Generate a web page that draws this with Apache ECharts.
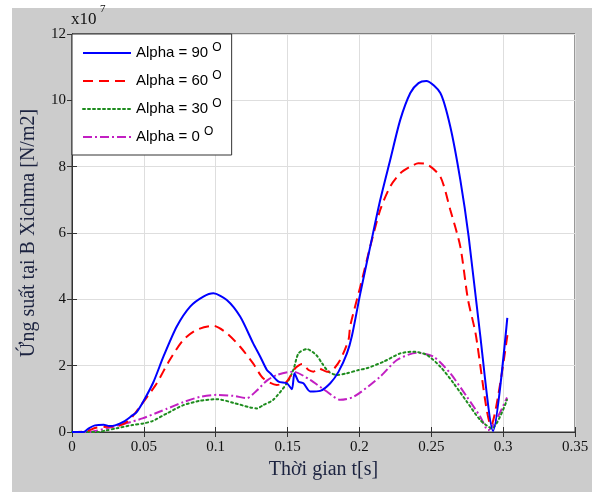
<!DOCTYPE html>
<html>
<head>
<meta charset="utf-8">
<script src="https://cdn.jsdelivr.net/npm/echarts@6/dist/echarts.min.js"></script>
<style>
html,body{margin:0;padding:0;background:#fff;}
#chart{width:596px;height:495px;}
</style>
</head>
<body>
<div id="chart"></div>
<script>
// ---- data (stress in units of 1e7 N/m2, time in s) ----
const seriesNames = ['Alpha = 90', 'Alpha = 60', 'Alpha = 30', 'Alpha = 0'];
const xTickLabels = ['0', '0.05', '0.1', '0.15', '0.2', '0.25', '0.3', '0.35'];
const yTickLabels = ['0', '2', '4', '6', '8', '10', '12'];

const t90 = [0, 0.008, 0.012, 0.016, 0.022, 0.026, 0.03, 0.036, 0.042, 0.045, 0.05, 0.0566, 0.0636, 0.0729, 0.0822, 0.0914, 0.0984, 0.1077, 0.117, 0.126, 0.131, 0.1356, 0.138, 0.1437, 0.1495, 0.153, 0.1548, 0.1576, 0.161, 0.1657, 0.1727, 0.1797, 0.1855, 0.1913, 0.1948, 0.2006, 0.2075, 0.2145, 0.2214, 0.2284, 0.2354, 0.2411, 0.2465, 0.2563, 0.2632, 0.2702, 0.276, 0.2836, 0.293, 0.3029];
const v90 = [0, 0, 0.12, 0.2, 0.22, 0.18, 0.2, 0.31, 0.5, 0.6, 0.95, 1.5, 2.27, 3.18, 3.78, 4.08, 4.18, 3.98, 3.48, 2.68, 2.27, 1.87, 1.77, 1.52, 1.47, 1.29, 1.77, 1.52, 1.47, 1.22, 1.24, 1.47, 1.82, 2.37, 2.9, 4.18, 5.59, 7.0, 8.2, 9.41, 10.22, 10.52, 10.58, 10.22, 9.21, 7.6, 5.89, 3.08, 0.03, 3.44];

const t60 = [0, 0.01, 0.016, 0.024, 0.032, 0.038, 0.042, 0.048, 0.055, 0.059, 0.068, 0.0775, 0.0868, 0.0984, 0.1077, 0.117, 0.126, 0.133, 0.1425, 0.149, 0.1553, 0.16, 0.1646, 0.168, 0.1715, 0.1773, 0.181, 0.1866, 0.1924, 0.1936, 0.2006, 0.2075, 0.2145, 0.2214, 0.2284, 0.2354, 0.241, 0.2465, 0.2563, 0.2632, 0.2702, 0.2755, 0.2807, 0.2916, 0.303];
const v60 = [0, 0.02, 0.12, 0.16, 0.18, 0.3, 0.46, 0.81, 1.22, 1.47, 2.17, 2.78, 3.08, 3.2, 2.98, 2.57, 2.07, 1.62, 1.42, 1.5, 1.92, 2.05, 1.87, 1.82, 1.92, 1.82, 1.85, 2.17, 2.78, 3.2, 4.38, 5.59, 6.7, 7.4, 7.8, 8.0, 8.1, 8.08, 7.7, 6.7, 5.59, 4.0, 3.0, 0.2, 2.93];

const t30 = [0, 0.018, 0.024, 0.031, 0.042, 0.0497, 0.056, 0.066, 0.0775, 0.089, 0.1008, 0.1123, 0.124, 0.1286, 0.133, 0.14, 0.1495, 0.154, 0.1576, 0.1634, 0.17, 0.174, 0.1785, 0.1843, 0.1913, 0.1994, 0.205, 0.2168, 0.2284, 0.2377, 0.247, 0.2563, 0.2655, 0.2748, 0.2841, 0.2922, 0.3027];
const v30 = [0, 0, 0.05, 0.11, 0.21, 0.26, 0.33, 0.56, 0.81, 0.94, 0.99, 0.88, 0.74, 0.71, 0.81, 0.97, 1.47, 1.87, 2.37, 2.5, 2.32, 2.07, 1.82, 1.72, 1.77, 1.87, 1.92, 2.12, 2.37, 2.42, 2.32, 1.97, 1.47, 0.91, 0.36, 0.11, 0.97];

const t0 = [0, 0.012, 0.024, 0.0376, 0.049, 0.0608, 0.066, 0.0775, 0.089, 0.1008, 0.1123, 0.1216, 0.1286, 0.1356, 0.1425, 0.154, 0.1657, 0.1773, 0.1866, 0.196, 0.2145, 0.2261, 0.24, 0.2516, 0.2632, 0.2748, 0.2841, 0.2895, 0.3027];
const v0 = [0, 0, 0.11, 0.26, 0.41, 0.61, 0.7, 0.9, 1.06, 1.12, 1.09, 1.02, 1.25, 1.55, 1.72, 1.82, 1.57, 1.22, 0.97, 1.06, 1.67, 2.17, 2.39, 2.27, 1.77, 1.06, 0.46, 0.05, 1.04];

const pairs = (xs, ys) => xs.map((x, i) => [x, ys[i]]);

const colors = ['#0000ff', '#ff0000', '#1e8c1e', '#c21fc2'];
const dashes = ['solid', [10, 6], [2, 3], [9, 3, 2, 3]];
const datasets = [pairs(t90, v90), pairs(t60, v60), pairs(t30, v30), pairs(t0, v0)];

const serif = 'Liberation Serif';
const sans = 'Liberation Sans';

const chart = echarts.init(document.getElementById('chart'), null, {renderer: 'canvas'});

const axisCommon = {
  axisLine: {show: true, lineStyle: {color: '#333', width: 1}},
  axisTick: {show: true, inside: true, length: 5, lineStyle: {color: '#333'}},
};

chart.setOption({
  animation: false,
  backgroundColor: '#ffffff',
  graphic: {
    z: -100,
    elements: [
      {type: 'rect', z: -100, shape: {x: 12, y: 8, width: 580, height: 484}, style: {fill: '#cccccc'}},
      {type: 'text', x: 71, y: 11, style: {text: 'x10', font: '17px "Liberation Serif"', fill: '#111'}},
      {type: 'text', x: 100, y: 4, style: {text: '7', font: '11px "Liberation Serif"', fill: '#111'}}
    ]
  },
  grid: {left: 72, top: 34, right: 21, bottom: 63, show: true, backgroundColor: '#ffffff', borderColor: '#333', borderWidth: 1},
  legend: {
    data: seriesNames,
    left: 72, top: 34, orient: 'vertical',
    itemWidth: 48, itemHeight: 14, itemGap: 7,
    padding: [8, 10, 8, 10],
    backgroundColor: '#ffffff', borderColor: '#333', borderWidth: 1, borderRadius: 0,
    itemStyle: {opacity: 0},
    textStyle: {
      color: '#000', fontFamily: sans, fontSize: 15, lineHeight: 20,
      rich: {
        t: {fontFamily: sans, fontSize: 15, color: '#000', lineHeight: 20},
        s: {fontFamily: sans, fontSize: 12, color: '#000', padding: [0, 0, 10, 0]}
      }
    },
    formatter: name => '{t|' + name + ' }{s|O}'
  },
  xAxis: [{
    type: 'value', min: 0, max: 0.35, interval: 0.05, position: 'bottom',
    ...axisCommon,
    axisLabel: {color: '#111', fontFamily: serif, fontSize: 15, margin: 8,
      formatter: v => xTickLabels[Math.round(v / 0.05)]},
    splitLine: {show: true, lineStyle: {color: '#dedede', width: 1}},
    name: 'Thời gian t[s]', nameLocation: 'middle', nameGap: 27,
    nameTextStyle: {color: '#1c2340', fontFamily: serif, fontSize: 20}
  }, {
    type: 'value', min: 0, max: 0.35, interval: 0.05, position: 'top',
    ...axisCommon, axisLabel: {show: false}, splitLine: {show: false}
  }],
  yAxis: [{
    type: 'value', min: 0, max: 12, interval: 2, position: 'left',
    ...axisCommon,
    axisLabel: {color: '#111', fontFamily: serif, fontSize: 15, margin: 6,
      formatter: v => yTickLabels[Math.round(v / 2)]},
    splitLine: {show: true, lineStyle: {color: '#dedede', width: 1}},
    name: 'Ứng suất tại B Xichma [N/m2]', nameLocation: 'middle', nameGap: 33, nameRotate: 90,
    nameTextStyle: {color: '#1c2340', fontFamily: serif, fontSize: 20}
  }, {
    type: 'value', min: 0, max: 12, interval: 2, position: 'right',
    ...axisCommon, axisLabel: {show: false}, splitLine: {show: false}
  }],
  series: seriesNames.map((name, i) => ({
    name: name,
    type: 'line',
    xAxisIndex: 0, yAxisIndex: 0,
    data: datasets[i],
    symbol: 'none',
    smooth: 0.25,
    z: 10 - i,
    lineStyle: {color: colors[i], width: 2, type: dashes[i], cap: i === 2 ? 'round' : 'butt'},
    itemStyle: {color: colors[i]}
  }))
});
</script>
</body>
</html>
